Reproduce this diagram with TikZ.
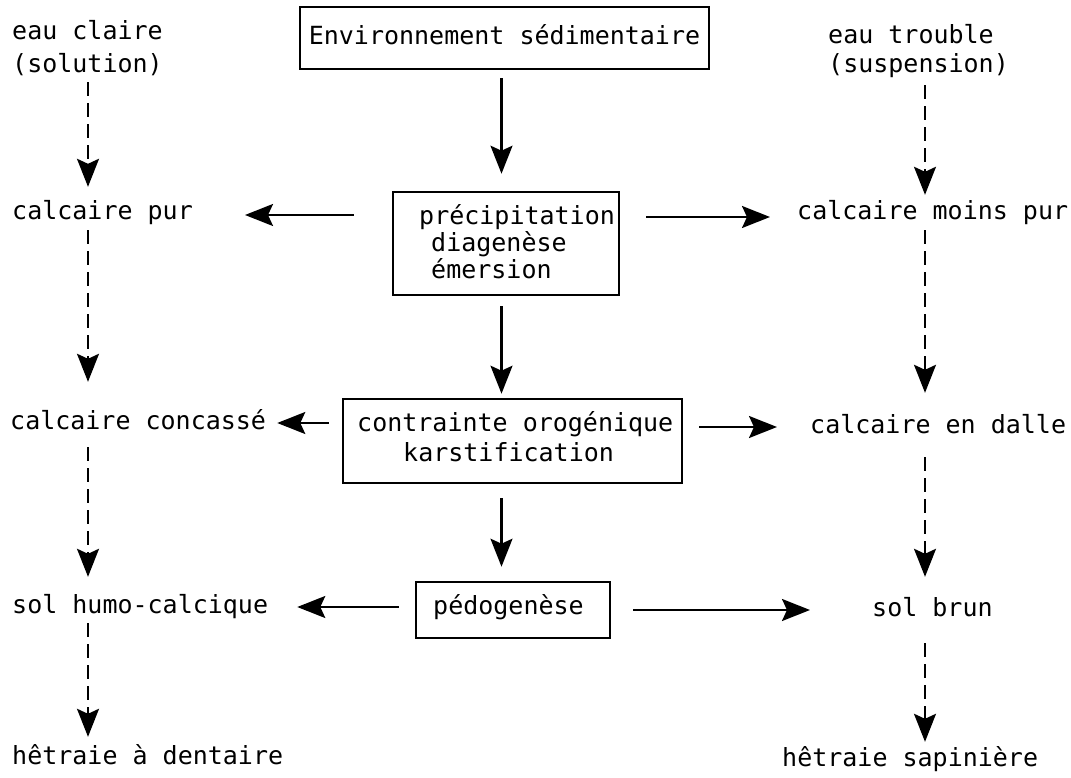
\documentclass[tikz,border=0pt]{standalone}
\usepackage{fontspec}
\setmonofont{DejaVu Sans Mono}
\usetikzlibrary{arrows.meta,calc}
\tikzset{
  lbl/.style={inner sep=0pt, anchor=west, text height=18.75pt, text depth=6.25pt,
    font=\ttfamily\fontsize{25}{30}\selectfont},
  boxed/.style={draw, line width=2.6pt, inner sep=0pt, text height=18.75pt, text depth=6.25pt,
    font=\ttfamily\fontsize{25}{30}\selectfont},
  arr/.style={line width=2.2pt, -{Stealth[length=28pt,width=22pt,inset=5pt]}},
  darr/.style={line width=2pt, dash pattern=on 14pt off 7pt, -{Stealth[length=28pt,width=22pt,inset=5pt]}}
}
\begin{document}
\begin{tikzpicture}[x=1pt,y=-1pt]
\useasboundingbox[fill=white] (0,0) rectangle (1071,778);
% boxes
\node[boxed, minimum width=409pt, minimum height=62pt] (b1) at (504.5,38) {Environnement sédimentaire};
\node[boxed, minimum width=226pt, minimum height=103pt] (b2) at (506,243.5) {};
\node[boxed, minimum width=339pt, minimum height=84pt] (b3) at (512.5,441) {};
\node[boxed, minimum width=194pt, minimum height=56pt] (b4) at (513,610) {};
% box texts
\node[lbl] (t21) at (419,218) {précipitation};
\node[lbl] (t22) at (431,245) {diagenèse};
\node[lbl] (t23) at (431,272) {émersion};
\node[lbl] (t31) at (357,425) {contrainte orogénique};
\node[lbl] (t32) at (403,455) {karstification};
\node[lbl] (t41) at (433,608) {pédogenèse};
% left column
\node[lbl] (ec1) at (12,33) {eau claire};
\node[lbl] (ec2) at (12,66) {(solution)};
\node[lbl] (cpur) at (12,213) {calcaire pur};
\node[lbl] (ccon) at (10,423) {calcaire concassé};
\node[lbl] (shc) at (12,607) {sol humo-calcique};
\node[lbl] (hd) at (12,758) {hêtraie à dentaire};
% right column
\node[lbl] (et1) at (828,37) {eau trouble};
\node[lbl] (et2) at (828,66) {(suspension)};
\node[lbl] (cmp) at (797,213) {calcaire moins pur};
\node[lbl] (ced) at (810,427) {calcaire en dalle};
\node[lbl] (sb) at (872,610) {sol brun};
\node[lbl] (hs) at (782,760) {hêtraie sapinière};
% column axes
\coordinate (L) at (88,0);
\coordinate (R) at (925,0);
\coordinate (M) at (501.5,0);
% dashed arrows left
\draw[darr, shorten <=3.5pt, shorten >=13.5pt] (ec2.south -| L) -- (cpur.north -| L);
\draw[darr, shorten <=4.5pt, shorten >=28.5pt] (cpur.south -| L) -- (ccon.north -| L);
\draw[darr, shorten <=11.5pt, shorten >=17.5pt] (ccon.south -| L) -- (shc.north -| L);
\draw[darr, shorten <=3.5pt, shorten >=8.5pt] (shc.south -| L) -- (hd.north -| L);
% dashed arrows right
\draw[darr, shorten <=6.5pt, shorten >=5.5pt] (et2.south -| R) -- (cmp.north -| R);
\draw[darr, shorten <=4.5pt, shorten >=21.5pt] (cmp.south -| R) -- (ced.north -| R);
\draw[darr, shorten <=17.5pt, shorten >=20.5pt] (ced.south -| R) -- (sb.north -| R);
\draw[darr, shorten <=20.5pt, shorten >=5.5pt] (sb.south -| R) -- (hs.north -| R);
% vertical solid arrows
\draw[arr, shorten <=8pt, shorten >=17pt] (b1.south -| M) -- (b2.north -| M);
\draw[arr, shorten <=10pt, shorten >=4pt] (b2.south -| M) -- (b3.north -| M);
\draw[arr, shorten <=14pt, shorten >=14pt] (b3.south -| M) -- (b4.north -| M);
% horizontal arrows
\draw[arr, shorten <=38pt, shorten >=52pt] ($(b2.west |- cpur)+(0,2)$) -- ($(cpur.east)+(0,2)$);
\draw[arr, shorten <=26pt, shorten >=27pt] ($(b2.east |- cmp)+(0,4)$) -- ($(cmp.west)+(0,4)$);
\draw[arr, shorten <=13pt, shorten >=11pt] (b3.west |- ccon) -- (ccon.east);
\draw[arr, shorten <=16pt, shorten >=33pt] (b3.east |- ced) -- (ced.west);
\draw[arr, shorten <=16pt, shorten >=29pt] (b4.west |- shc) -- (shc.east);
\draw[arr, shorten <=22pt, shorten >=62pt] (b4.east |- sb) -- (sb.west);
\end{tikzpicture}
\end{document}
